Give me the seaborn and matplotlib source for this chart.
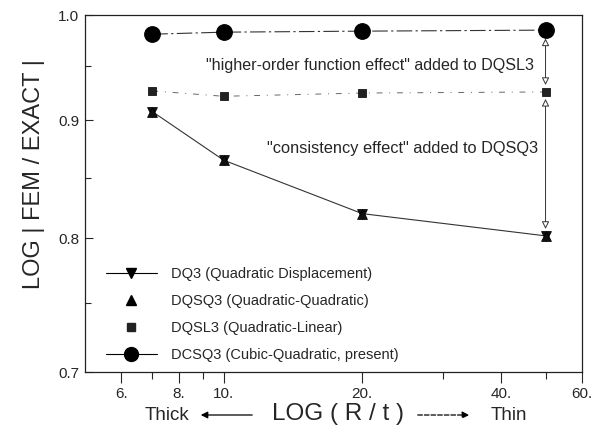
import matplotlib
matplotlib.use('Agg')
import matplotlib.pyplot as plt
from matplotlib.lines import Line2D
from matplotlib.ticker import FixedLocator, FixedFormatter, NullFormatter
import pandas as pd
import seaborn as sns

# dane
r_t = [7, 10, 20, 50]
dq3 = [0.908, 0.865, 0.820, 0.802]
dqsq3 = [0.908, 0.865, 0.820, 0.802]
dqsl3 = [0.927, 0.922, 0.925, 0.926]
dcsq3 = [0.981, 0.983, 0.984, 0.985]

names = ['DQ3 (Quadratic Displacement)', 'DQSQ3 (Quadratic-Quadratic)',
         'DQSL3 (Quadratic-Linear)', 'DCSQ3 (Cubic-Quadratic, present)']

x_ticks = [6, 8, 10, 20, 40, 60]
x_tick_labels = ['6.', '8.', '10.', '20.', '40.', '60.']
x_minor = [7, 9, 30, 50]
y_ticks = [0.7, 0.8, 0.9, 1.0]
y_tick_labels = ['0.7', '0.8', '0.9', '1.0']
y_minor = [0.75, 0.85, 0.95]

sns.set_style('ticks')
plt.rcParams['font.family'] = ['Liberation Sans', 'DejaVu Sans']

fig = plt.figure(figsize=(6.08, 4.32), dpi=100)
ax = fig.add_axes([85 / 608, 1 - 372 / 432, 497 / 608, 357 / 432])

# linie
sns.lineplot(x=r_t, y=dcsq3, ax=ax, color='#333333', lw=0.8, linestyle=(0, (14, 3, 2, 3)))
sns.lineplot(x=r_t, y=dqsl3, ax=ax, color='#666666', lw=0.7, linestyle=(0, (6, 7, 1, 7)))
sns.lineplot(x=r_t, y=dq3, ax=ax, color='#333333', lw=0.8)

# punkty
sns.scatterplot(x=r_t, y=dcsq3, ax=ax, color='black', marker='o', s=125, edgecolor='black', zorder=5)
sns.scatterplot(x=r_t, y=dqsl3, ax=ax, color='#222222', marker='s', s=40, edgecolor='black', zorder=5)
sns.scatterplot(x=r_t, y=dq3, ax=ax, color='#111111', marker='v', s=50, edgecolor='black', zorder=5)
sns.scatterplot(x=r_t, y=dqsq3, ax=ax, color='#111111', marker='^', s=50, edgecolor='black', zorder=5)

ax.set_xscale('log')
ax.set_yscale('log')
ax.set_xlim(5, 60)
ax.set_ylim(0.7, 1.0)

ax.xaxis.set_major_locator(FixedLocator(x_ticks))
ax.xaxis.set_major_formatter(FixedFormatter(x_tick_labels))
ax.xaxis.set_minor_locator(FixedLocator(x_minor))
ax.xaxis.set_minor_formatter(NullFormatter())
ax.yaxis.set_major_locator(FixedLocator(y_ticks))
ax.yaxis.set_major_formatter(FixedFormatter(y_tick_labels))
ax.yaxis.set_minor_locator(FixedLocator(y_minor))
ax.yaxis.set_minor_formatter(NullFormatter())

ax.tick_params(axis='x', which='major', direction='out', length=8, width=0.8, labelsize=11, pad=3)
ax.tick_params(axis='x', which='minor', direction='out', length=5, width=0.8)
ax.tick_params(axis='y', which='major', direction='in', length=6, width=0.8, labelsize=11, pad=4)
ax.tick_params(axis='y', which='minor', direction='in', length=4, width=0.8)
for s in ax.spines.values():
    s.set_linewidth(0.9)
    s.set_color('#222222')

ax.set_ylabel('LOG | FEM / EXACT |', fontsize=17)
ax.yaxis.set_label_coords(-40 / 497, (372 - 174) / 357)
ax.set_xlabel('')

# strzalki miedzy krzywymi
arrow_kw = dict(arrowstyle='<|-|>', color='#333333', lw=0.7, fc='white', mutation_scale=11)
ax.annotate('', xy=(r_t[-1], dqsl3[-1]), xytext=(r_t[-1], dcsq3[-1]),
            arrowprops=dict(shrinkA=6, shrinkB=5, **arrow_kw))
ax.annotate('', xy=(r_t[-1], dqsq3[-1]), xytext=(r_t[-1], dqsl3[-1]),
            arrowprops=dict(shrinkA=5, shrinkB=5, **arrow_kw))
ax.text(47.3, 0.951, '"higher-order function effect" added to DQSL3',
        ha='right', va='center', fontsize=11.6)
ax.text(48.3, 0.875, '"consistency effect" added to DQSQ3',
        ha='right', va='center', fontsize=11.8)

# legenda
handles = [
    Line2D([], [], color='black', lw=0.8, marker='v', ms=7),
    Line2D([], [], color='black', lw=0, marker='^', ms=6.5),
    Line2D([], [], color='#222222', lw=0, marker='s', ms=5.5),
    Line2D([], [], color='black', lw=0.8, marker='o', ms=10),
]
ax.legend(handles, names, loc='lower left', bbox_to_anchor=(0.015, -0.01), frameon=False,
          fontsize=10.5, handlelength=3.5, handletextpad=1.0, labelspacing=0.9)

# opis osi x
fig.text(167 / 608, 1 - 416 / 432, 'Thick', ha='center', va='center', fontsize=13.5)
fig.text(338 / 608, 1 - 414 / 432, 'LOG ( R / t )', ha='center', va='center', fontsize=17.5)
fig.text(509 / 608, 1 - 416 / 432, 'Thin', ha='center', va='center', fontsize=13.5)
ax.annotate('', xy=(198, 432 - 415), xytext=(255, 432 - 415), xycoords='figure pixels',
            arrowprops=dict(arrowstyle='-|>', color='black', lw=0.9, mutation_scale=10))
ax.annotate('', xy=(472, 432 - 415), xytext=(415, 432 - 415), xycoords='figure pixels',
            arrowprops=dict(arrowstyle='-|>', color='black', lw=0.9, ls='--', mutation_scale=10))

fig.savefig('out.png', dpi=100)
